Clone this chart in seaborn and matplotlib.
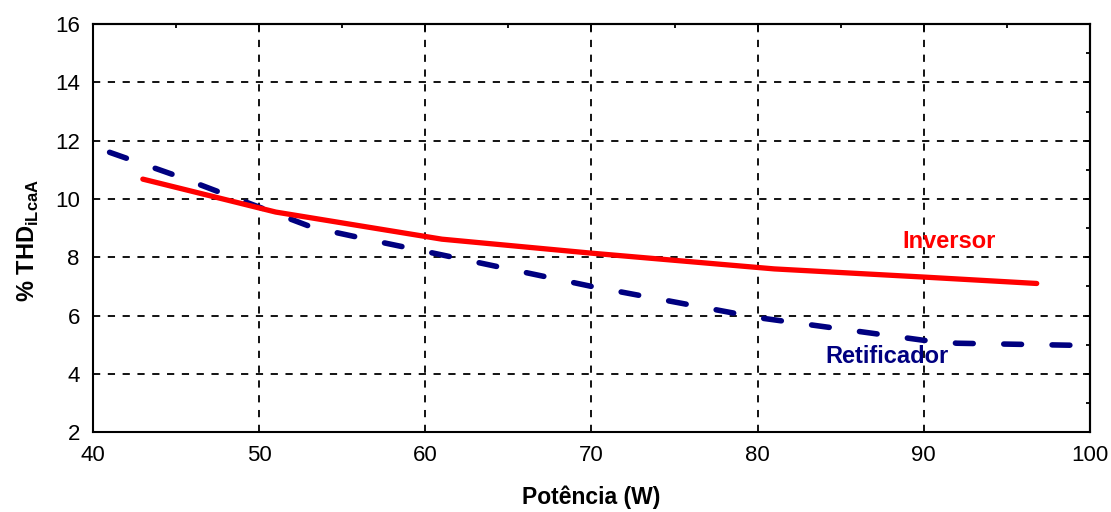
import pandas as pd
import numpy as np
import seaborn as sns
import matplotlib.pyplot as plt
from matplotlib.ticker import MultipleLocator

# values
inv_x = [43, 51, 61, 70, 81, 90, 96.8]
inv_y = [10.68, 9.55, 8.62, 8.14, 7.6, 7.32, 7.1]
ret_x = [41, 45, 48, 50, 51, 53, 54.2, 57.3, 60, 70, 80, 90, 92, 99]
ret_y = [11.6, 10.8, 10.15, 9.72, 9.5, 9.07, 8.9, 8.52, 8.2, 7.0, 5.93, 5.15, 5.05, 4.98]

x_label = 'Potência (W)'
y_label = r'% THD$_{\mathbf{iLcaA}}$'

sns.set_style('white')
plt.rcParams['font.family'] = ['Liberation Sans', 'DejaVu Sans']
plt.rcParams['mathtext.fontset'] = 'custom'
plt.rcParams['mathtext.rm'] = 'Liberation Sans'
plt.rcParams['mathtext.bf'] = 'Liberation Sans:bold'
plt.rcParams['text.color'] = 'black'
plt.rcParams['axes.labelcolor'] = 'black'
plt.rcParams['xtick.color'] = 'black'
plt.rcParams['ytick.color'] = 'black'

inv = pd.DataFrame({'x': inv_x, 'y': inv_y})
ret = pd.DataFrame({'x': ret_x, 'y': ret_y})

fig = plt.figure(figsize=(11.11, 5.12), dpi=100)
ax = fig.add_axes([0.0837, 0.156, 0.8973, 0.797])

sns.lineplot(data=ret, x='x', y='y', ax=ax, sort=False, color='#000080', lw=4,
             linestyle=(0, (3.2, 5.5)), dash_capstyle='round')
sns.lineplot(data=inv, x='x', y='y', ax=ax, sort=False, color='#ff0000', lw=3.8,
             solid_capstyle='round')

ax.set_xlim(40, 100)
ax.set_ylim(2, 16)
ax.xaxis.set_major_locator(MultipleLocator(10))
ax.xaxis.set_minor_locator(MultipleLocator(5))
ax.yaxis.set_major_locator(MultipleLocator(2))
ax.yaxis.set_minor_locator(MultipleLocator(1))
ax.grid(True, which='major', color='black', lw=1.3, linestyle=(0, (4, 4.2)))

for s in ax.spines.values():
    s.set_color('black')
    s.set_linewidth(1.5)

ax.tick_params(which='major', direction='inout', length=11, width=1.3, labelsize=16, pad=4, colors='black')
ax.tick_params(which='minor', direction='out', length=4.5, width=1.3)

# inward ticks on top and right
top = ax.secondary_xaxis('top')
top.xaxis.set_major_locator(MultipleLocator(10))
top.xaxis.set_minor_locator(MultipleLocator(5))
top.tick_params(which='major', direction='in', length=5, width=1.3, labeltop=False)
top.tick_params(which='minor', direction='in', length=3, width=1.3)
right = ax.secondary_yaxis('right')
right.yaxis.set_major_locator(MultipleLocator(2))
right.yaxis.set_minor_locator(MultipleLocator(1))
right.tick_params(which='major', direction='in', length=5, width=1.3, labelright=False)
right.tick_params(which='minor', direction='in', length=3, width=1.3)
for sec in (top, right):
    for s in sec.spines.values():
        s.set_linewidth(1.5)

ax.set_xlabel(x_label, fontsize=16.5, fontweight='bold', labelpad=14, color='black')
ax.set_ylabel(y_label, fontsize=17, fontweight='bold', color='black')
ax.yaxis.set_label_coords(-0.052, 0.47)

ax.text(91.5, 8.55, 'Inversor', color='#ff0000', fontsize=17, fontweight='bold', ha='center', va='center')
ax.text(87.8, 4.6, 'Retificador', color='#000080', fontsize=17, fontweight='bold', ha='center', va='center')

fig.savefig('out.png', dpi=100)
